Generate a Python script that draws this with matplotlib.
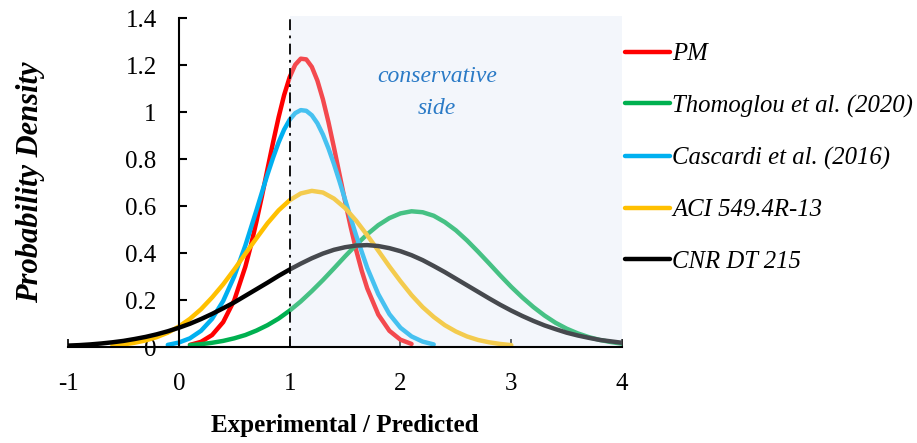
import matplotlib.pyplot as plt
from matplotlib.patches import Rectangle

plt.rcParams['font.family'] = ['Liberation Serif', 'DejaVu Serif']
plt.rcParams['axes.unicode_minus'] = False

# values
pm_x = [0.1, 0.2, 0.3, 0.4, 0.5, 0.6, 0.65, 0.7, 0.75, 0.8, 0.85, 0.9, 0.95,
        1.0, 1.05, 1.1, 1.15, 1.2, 1.25, 1.3, 1.35, 1.4, 1.45, 1.5, 1.55, 1.6,
        1.65, 1.7, 1.8, 1.9, 2.0, 2.1]
pm_y = [0.009, 0.022, 0.051, 0.106, 0.199, 0.342, 0.432, 0.534, 0.643, 0.758,
        0.871, 0.978, 1.073, 1.149, 1.202, 1.228, 1.225, 1.193, 1.135, 1.055,
        0.958, 0.849, 0.735, 0.621, 0.513, 0.413, 0.325, 0.250, 0.138, 0.069,
        0.031, 0.013]

cas_x = [-0.1, 0.0, 0.1, 0.2, 0.3, 0.4, 0.5, 0.6, 0.7, 0.75, 0.8, 0.85, 0.9,
         0.95, 1.0, 1.05, 1.1, 1.15, 1.2, 1.25, 1.3, 1.35, 1.4, 1.45, 1.5,
         1.55, 1.6, 1.7, 1.8, 1.9, 2.0, 2.1, 2.2, 2.3]
cas_y = [0.009, 0.019, 0.037, 0.069, 0.120, 0.196, 0.301, 0.432, 0.582, 0.659,
         0.735, 0.806, 0.871, 0.926, 0.968, 0.996, 1.009, 1.006, 0.987, 0.953,
         0.905, 0.846, 0.779, 0.705, 0.628, 0.551, 0.475, 0.337, 0.225, 0.140,
         0.082, 0.045, 0.023, 0.011]

aci_x = [-0.6, -0.5, -0.4, -0.3, -0.2, -0.1, 0.0, 0.1, 0.2, 0.3, 0.4, 0.5,
         0.6, 0.7, 0.8, 0.9, 1.0, 1.1, 1.2, 1.3, 1.4, 1.5, 1.6, 1.7, 1.8, 1.9,
         2.0, 2.1, 2.2, 2.3, 2.4, 2.5, 2.6, 2.7, 2.8, 2.9, 3.0]
aci_y = [0.007, 0.011, 0.018, 0.028, 0.042, 0.061, 0.087, 0.120, 0.161, 0.211,
         0.267, 0.330, 0.397, 0.463, 0.527, 0.582, 0.625, 0.654, 0.665, 0.658,
         0.632, 0.592, 0.538, 0.476, 0.410, 0.343, 0.280, 0.221, 0.170, 0.128,
         0.093, 0.066, 0.045, 0.030, 0.020, 0.013, 0.008]

tho_x = [0.1, 0.2, 0.3, 0.4, 0.5, 0.6, 0.7, 0.8, 0.9, 1.0, 1.1, 1.2, 1.3, 1.4,
         1.5, 1.6, 1.7, 1.8, 1.9, 2.0, 2.1, 2.2, 2.3, 2.4, 2.5, 2.6, 2.7, 2.8,
         2.9, 3.0, 3.1, 3.2, 3.3, 3.4, 3.5, 3.6, 3.7, 3.8, 3.9, 4.0]
tho_y = [0.008, 0.012, 0.018, 0.026, 0.037, 0.051, 0.070, 0.093, 0.121, 0.155,
         0.194, 0.238, 0.285, 0.335, 0.386, 0.435, 0.480, 0.519, 0.549, 0.569,
         0.578, 0.574, 0.559, 0.532, 0.497, 0.454, 0.406, 0.356, 0.305, 0.256,
         0.211, 0.170, 0.134, 0.103, 0.078, 0.058, 0.042, 0.030, 0.021, 0.014]

cnr_x = [-1.0, -0.9, -0.8, -0.7, -0.6, -0.5, -0.4, -0.3, -0.2, -0.1, 0.0, 0.1,
         0.2, 0.3, 0.4, 0.5, 0.6, 0.7, 0.8, 0.9, 1.0, 1.1, 1.2, 1.3, 1.4, 1.5,
         1.6, 1.7, 1.8, 1.9, 2.0, 2.1, 2.2, 2.3, 2.4, 2.5, 2.6, 2.7, 2.8, 2.9,
         3.0, 3.1, 3.2, 3.3, 3.4, 3.5, 3.6, 3.7, 3.8, 3.9, 4.0]
cnr_y = [0.006, 0.008, 0.011, 0.015, 0.020, 0.026, 0.034, 0.043, 0.054, 0.067,
         0.082, 0.099, 0.119, 0.141, 0.165, 0.190, 0.218, 0.246, 0.274, 0.303,
         0.330, 0.355, 0.378, 0.398, 0.414, 0.425, 0.432, 0.434, 0.430, 0.421,
         0.408, 0.391, 0.370, 0.345, 0.319, 0.291, 0.263, 0.235, 0.207, 0.180,
         0.155, 0.132, 0.111, 0.092, 0.076, 0.061, 0.049, 0.039, 0.030, 0.024,
         0.018]

x_ticks = [-1, 0, 1, 2, 3, 4]
y_ticks = [0, 0.2, 0.4, 0.6, 0.8, 1.0, 1.2, 1.4]
y_labels = ['0', '0.2', '0.4', '0.6', '0.8', '1', '1.2', '1.4']

fig = plt.figure(figsize=(9.17, 4.43), dpi=100)
ax = fig.add_axes([0.0742, 0.2167, 0.6042, 0.742])

series = [
    (pm_x, pm_y, '#ff0000', 'PM'),
    (tho_x, tho_y, '#00b050', 'Thomoglou et al. (2020)'),
    (cas_x, cas_y, '#00b0f0', 'Cascardi et al. (2016)'),
    (aci_x, aci_y, '#ffc000', 'ACI 549.4R-13'),
    (cnr_x, cnr_y, '#000000', 'CNR DT 215'),
]
handles = []
for xs, ys, col, lab in series:
    ln, = ax.plot(xs, ys, color=col, lw=3.2, solid_capstyle='round',
                  solid_joinstyle='round', label=lab, zorder=2)
    handles.append(ln)

# shaded conservative zone sits over the curves (semi transparent)
ax.add_patch(Rectangle((1, 0), 3, 1.41, facecolor='#dbe5f3', alpha=0.32,
                       edgecolor='none', zorder=3, clip_on=False))
ax.plot([1, 1], [0, 1.41], color='black', lw=1.3, ls=(0, (6, 3, 1.5, 3)),
        zorder=4, clip_on=False)
ax.text(2.33, 1.084, 'conservative\nside', color='#2a7ac6', fontsize=17,
        style='italic', ha='center', va='center', linespacing=1.7, zorder=5)

ax.set_xlim(-1, 4)
ax.set_ylim(0, 1.4)
ax.spines['top'].set_visible(False)
ax.spines['right'].set_visible(False)
ax.spines['left'].set_position(('data', 0))
for s in ('left', 'bottom'):
    ax.spines[s].set_linewidth(1.5)
    ax.spines[s].set_zorder(6)
ax.set_xticks(x_ticks)
ax.set_yticks(y_ticks)
ax.set_yticklabels(y_labels)
ax.tick_params(axis='x', direction='in', length=6, width=1.2, pad=19,
               labelsize=18)
ax.tick_params(axis='y', direction='in', length=6, width=1.5, pad=16,
               labelsize=18)

fig.text(0.376, 0.04, 'Experimental / Predicted', fontsize=18,
         fontweight='bold', ha='center', va='center')
fig.text(0.033, 0.589, 'Probability Density', fontsize=22, fontweight='bold',
         style='italic', rotation=90, ha='center', va='center')

fig.legend(handles=handles, loc='upper left', bbox_to_anchor=(0.6816, 0.903),
           frameon=False, prop={'style': 'italic', 'size': 17.8},
           handlelength=1.82, handletextpad=0.1, labelspacing=1.18,
           borderpad=0, borderaxespad=0)

fig.savefig('out.png', dpi=100)
